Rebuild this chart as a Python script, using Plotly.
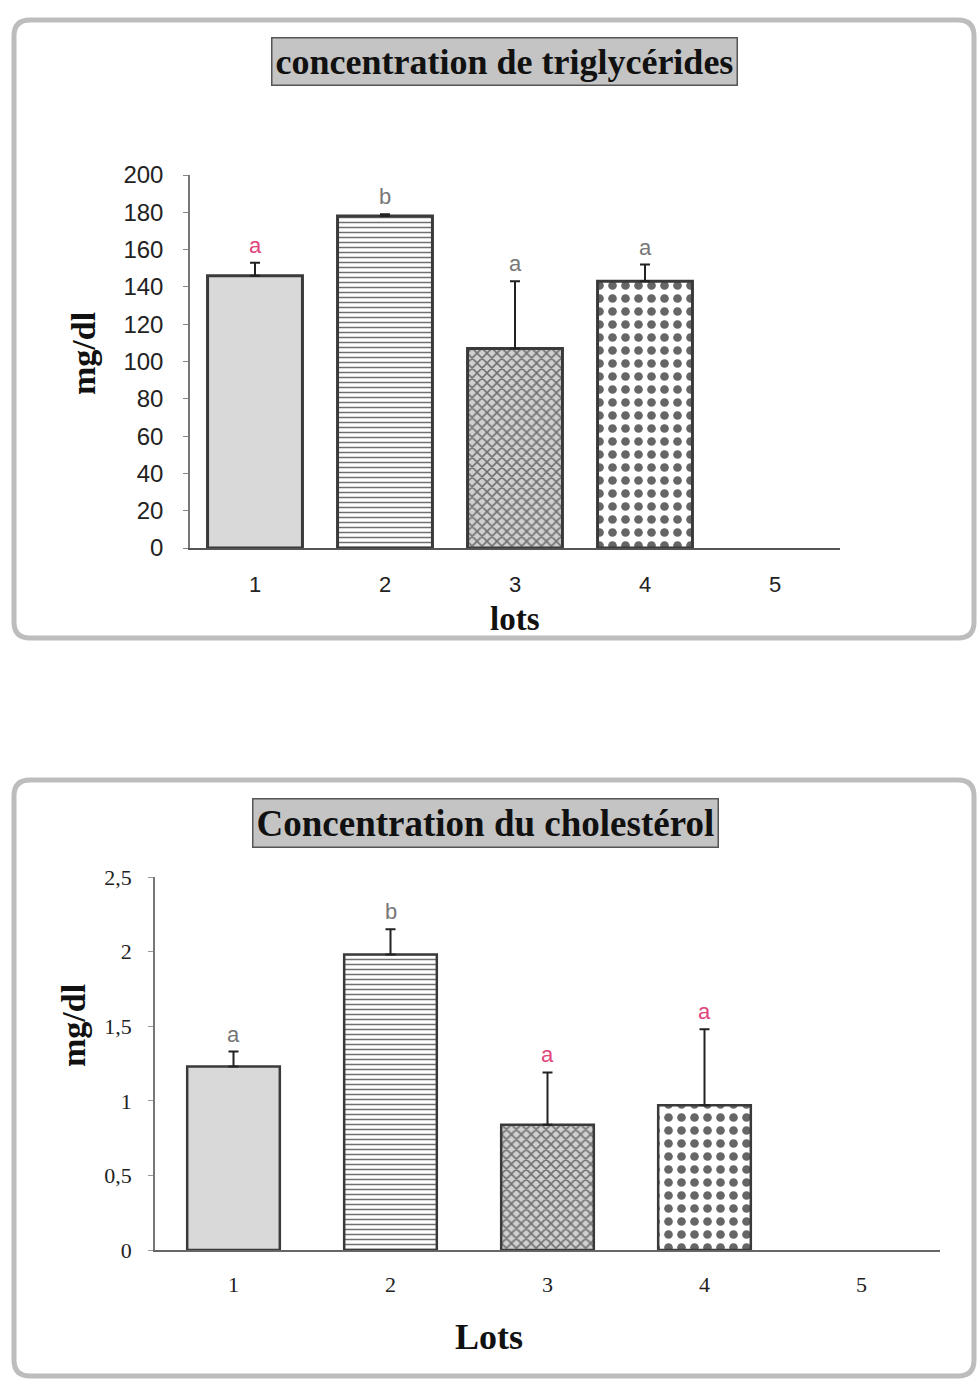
import plotly.graph_objects as go

W, H = 979, 1380

# ---- data ----
lots = [1, 2, 3, 4, 5]
lot_labels = ["1", "2", "3", "4", "5"]

tg_values = [146, 178, 107, 143]
tg_err = [7, 1, 36, 9]
tg_letters = ["a", "b", "a", "a"]
tg_letter_colors = ["#e0457b", "#777777", "#777777", "#777777"]
tg_ticks = [0, 20, 40, 60, 80, 100, 120, 140, 160, 180, 200]

ch_values = [1.23, 1.98, 0.84, 0.97]
ch_err = [0.10, 0.17, 0.35, 0.51]
ch_letters = ["a", "b", "a", "a"]
ch_letter_colors = ["#777777", "#777777", "#e0457b", "#e0457b"]
ch_tickvals = [0, 0.5, 1, 1.5, 2, 2.5]
ch_ticktext = ["0", "0,5", "1", "1,5", "2", "2,5"]

title_top = "concentration de triglycérides"
title_bot = "Concentration du cholestérol"

# ---- styles ----
pattern_shapes = ["", "-", "x", "."]
pattern_sizes = [8, 5, 7, 13]
pattern_solid = [0.3, 0.3, 0.4, 0.35]
bg_colors = ["#d9d9d9", "#ffffff", "#d0d0d0", "#ffffff"]
fg_colors = ["#d9d9d9", "#707070", "#707070", "#666666"]

def px_x(p):
    return p / W

def px_y(p):
    return 1 - p / H

fig = go.Figure()

cats = lots[:4]

def add_bars(values, errs, width, lw, xa, ya):
    for i in range(len(values)):
        pat = dict(shape=pattern_shapes[i], size=pattern_sizes[i],
                   solidity=pattern_solid[i], fgcolor=fg_colors[i],
                   bgcolor=bg_colors[i], fillmode="replace")
        fig.add_trace(go.Bar(
            x=[cats[i]], y=[values[i]], width=width,
            marker=dict(color=bg_colors[i], line=dict(color="#3a3a3a", width=lw),
                        pattern=pat),
            error_y=dict(type="data", symmetric=False, array=[errs[i]],
                         arrayminus=[0], color="#222222", thickness=2, width=5),
            xaxis=xa, yaxis=ya, showlegend=False, hoverinfo="skip"))

add_bars(tg_values, tg_err, 0.73, 3, "x", "y")
add_bars(ch_values, ch_err, 0.59, 2.5, "x2", "y2")

# letters above bars
for i in range(4):
    fig.add_annotation(x=cats[i], y=tg_values[i] + tg_err[i], xref="x", yref="y",
                       text=tg_letters[i], showarrow=False, xanchor="center",
                       yanchor="bottom", yshift=3,
                       font=dict(family="Liberation Sans", size=22, color=tg_letter_colors[i]))
    fig.add_annotation(x=cats[i], y=ch_values[i] + ch_err[i], xref="x2", yref="y2",
                       text=ch_letters[i], showarrow=False, xanchor="center",
                       yanchor="bottom", yshift=3,
                       font=dict(family="Liberation Sans", size=22, color=ch_letter_colors[i]))

serif = "Liberation Serif"

fig.update_layout(
    width=W, height=H, margin=dict(l=0, r=0, t=0, b=0, autoexpand=False),
    paper_bgcolor="#ffffff", plot_bgcolor="rgba(0,0,0,0)",
    barmode="overlay",
    xaxis=dict(domain=[px_x(190), px_x(840)], range=[0.5, 5.5],
               tickvals=lots, ticktext=lot_labels, showgrid=False, zeroline=False,
               showline=True, linecolor="#555555", linewidth=2, ticks="",
               ticklabelstandoff=16,
               tickfont=dict(family="Liberation Sans", size=22, color="#222222"),
               anchor="y"),
    yaxis=dict(domain=[px_y(548), px_y(175)], range=[0, 200],
               tickvals=tg_ticks, showgrid=False, zeroline=False,
               showline=True, linecolor="#777777", linewidth=1.5,
               ticks="outside", ticklen=5, tickcolor="#888888",
               ticklabelstandoff=15,
               tickfont=dict(family="Liberation Sans", size=24, color="#222222"),
               anchor="x"),
    xaxis2=dict(domain=[px_x(155), px_x(940)], range=[0.5, 5.5],
                tickvals=lots, ticktext=lot_labels, showgrid=False, zeroline=False,
                showline=True, linecolor="#666666", linewidth=2, ticks="",
                ticklabelstandoff=14,
                tickfont=dict(family=serif, size=22, color="#222222"),
                anchor="y2"),
    yaxis2=dict(domain=[px_y(1250), px_y(877)], range=[0, 2.5],
                tickvals=ch_tickvals, ticktext=ch_ticktext, showgrid=False, zeroline=False,
                showline=True, linecolor="#777777", linewidth=1.5,
                ticks="outside", ticklen=5, tickcolor="#999999",
                ticklabelstandoff=12,
                tickfont=dict(family=serif, size=22, color="#222222"),
                anchor="x2"),
)

def rounded_rect(x0, y0, x1, y1, r):
    X0, X1 = px_x(x0), px_x(x1)
    Y0, Y1 = px_y(y0), px_y(y1)
    rx, ry = r / W, r / H
    return (f"M {X0+rx},{Y0} L {X1-rx},{Y0} Q {X1},{Y0} {X1},{Y0-ry} "
            f"L {X1},{Y1+ry} Q {X1},{Y1} {X1-rx},{Y1} L {X0+rx},{Y1} "
            f"Q {X0},{Y1} {X0},{Y1+ry} L {X0},{Y0-ry} Q {X0},{Y0} {X0+rx},{Y0} Z")

fig.add_shape(type="path", xref="paper", yref="paper",
              path=rounded_rect(14, 20, 974, 638, 16),
              line=dict(color="#bdbdbd", width=5), layer="below")
fig.add_shape(type="path", xref="paper", yref="paper",
              path=rounded_rect(14, 780, 974, 1376, 16),
              line=dict(color="#bdbdbd", width=5), layer="below")

# titles in grey boxes
fig.add_annotation(x=px_x(504), y=px_y(61), xref="paper", yref="paper",
                   text=f"<b>{title_top}</b>", showarrow=False,
                   font=dict(family=serif, size=36, color="#111111"),
                   bgcolor="#c4c4c4", bordercolor="#555555", borderwidth=1.5,
                   borderpad=3, xanchor="center", yanchor="middle")
fig.add_annotation(x=px_x(485), y=px_y(823), xref="paper", yref="paper",
                   text=f"<b>{title_bot}</b>", showarrow=False,
                   font=dict(family=serif, size=37, color="#111111"),
                   bgcolor="#c4c4c4", bordercolor="#555555", borderwidth=1.5,
                   borderpad=3, xanchor="center", yanchor="middle")

# axis titles
fig.add_annotation(x=px_x(83), y=px_y(354), xref="paper", yref="paper",
                   text="<b>mg/dl</b>", textangle=-90, showarrow=False,
                   xanchor="center", yanchor="middle",
                   font=dict(family=serif, size=34, color="#111111"))
fig.add_annotation(x=px_x(515), y=px_y(619), xref="paper", yref="paper",
                   text="<b>lots</b>", showarrow=False,
                   xanchor="center", yanchor="middle",
                   font=dict(family=serif, size=33, color="#111111"))
fig.add_annotation(x=px_x(73), y=px_y(1026), xref="paper", yref="paper",
                   text="<b>mg/dl</b>", textangle=-90, showarrow=False,
                   xanchor="center", yanchor="middle",
                   font=dict(family=serif, size=34, color="#111111"))
fig.add_annotation(x=px_x(489), y=px_y(1337), xref="paper", yref="paper",
                   text="<b>Lots</b>", showarrow=False,
                   xanchor="center", yanchor="middle",
                   font=dict(family=serif, size=36, color="#111111"))

fig.write_html("out.html", config={"displayModeBar": False},
               post_script="document.body.style.margin='0';document.body.style.padding='0';"
                           "document.body.style.overflow='hidden';")
